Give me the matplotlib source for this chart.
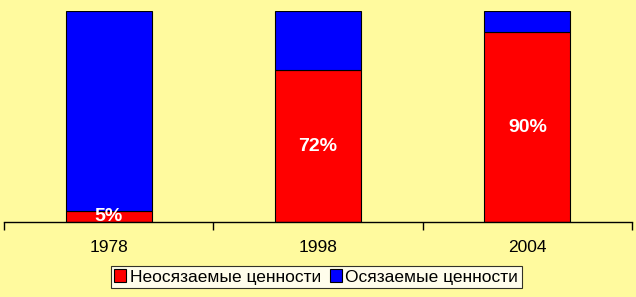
import matplotlib
matplotlib.use('Agg')
import matplotlib.pyplot as plt
import numpy as np

plt.rcParams['font.family'] = ['Liberation Sans', 'DejaVu Sans']

years = ['1978', '1998', '2004']
intangible = [5, 72, 90]
tangible = [95, 28, 10]
labels = ['Неосязаемые ценности', 'Осязаемые ценности']

bg = '#FFFA9E'
fig = plt.figure(figsize=(6.36, 2.97), dpi=100, facecolor=bg)
ax = fig.add_axes([4 / 636, 75 / 297, 628 / 636, 211 / 297], facecolor=bg)

x = np.arange(len(years))
w = 0.41
ax.bar(x, intangible, w, color='#FF0000', edgecolor='black', linewidth=0.8, label=labels[0])
ax.bar(x, tangible, w, bottom=intangible, color='#0000FF', edgecolor='black', linewidth=0.8, label=labels[1])

for i, v in enumerate(intangible):
    ax.text(x[i], v / 2, f'{v}%', ha='center', va='center', color='white',
            fontsize=14, fontweight='bold')

ax.set_xlim(-0.5, len(years) - 0.5)
ax.set_ylim(0, 100)
ax.set_xticks(np.arange(-0.5, len(years)), minor=False)
ax.set_xticklabels([])
ax.set_xticks(x, minor=True)
ax.set_xticklabels(years, minor=True, fontsize=12.5)
ax.tick_params(axis='x', which='minor', length=0, pad=13)
ax.tick_params(axis='x', which='major', length=6, width=1, direction='out')
ax.set_yticks([])
for s in ['top', 'right', 'left']:
    ax.spines[s].set_visible(False)
ax.spines['bottom'].set_linewidth(1)

leg = fig.legend(loc='center', bbox_to_anchor=(316 / 636, 1 - 277 / 297), ncol=2,
                 fontsize=12.5, frameon=True, fancybox=False, edgecolor='black',
                 handlelength=0.7, handleheight=0.7, handletextpad=0.2,
                 columnspacing=0.5, borderpad=0.2, borderaxespad=0)
leg.get_frame().set_linewidth(0.8)

fig.savefig('out.png', dpi=100, facecolor=bg)
